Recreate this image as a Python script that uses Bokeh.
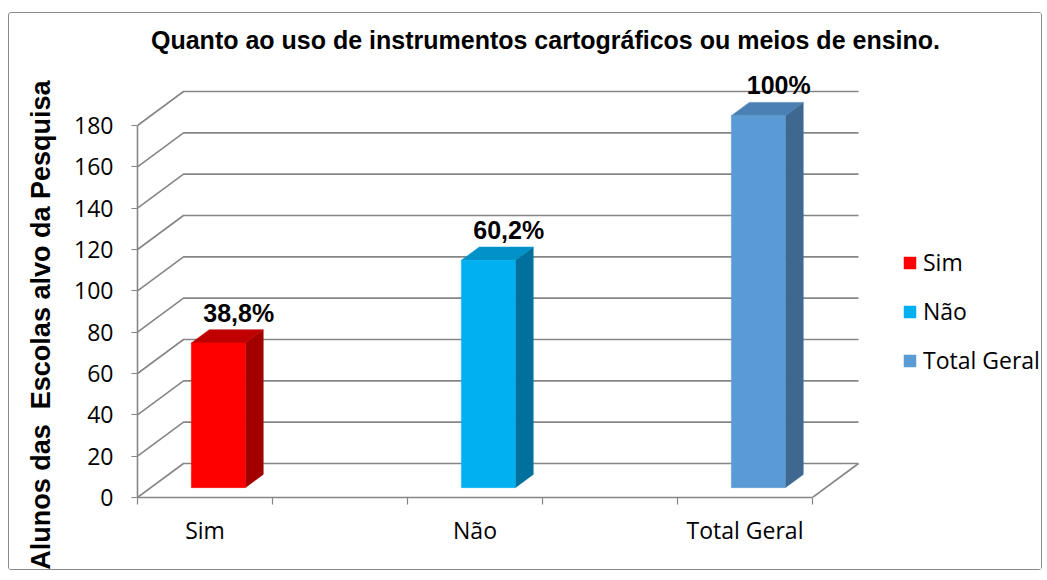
import math
from bokeh.plotting import figure
from bokeh.models import FixedTicker, Legend, LegendItem, ColumnDataSource, Title
from bokeh.core.properties import value
from bokeh.embed import file_html
from bokeh.resources import INLINE

# ---- data ----
categories = ["Sim", "Não", "Total Geral"]
counts = [70, 110, 180]
pct_labels = ["38,8%", "60,2%", "100%"]
slots = [0.5, 2.5, 4.5]          # category slot centres (5 slots, 1st/3rd/5th used)
slot_edges = [0, 1, 2, 3, 4, 5]
y_ticks = [0, 20, 40, 60, 80, 100, 120, 140, 160, 180]
title_text = "Quanto ao uso de instrumentos cartográficos ou meios de ensino."
y_label = "Alunos das\u00a0 Escolas alvo da Pesquisa"

front_colors = ["#FF0000", "#00B0F0", "#5B9BD5"]
top_colors = ["#C00000", "#0092C8", "#4A80B4"]
side_colors = ["#A20000", "#00709C", "#3E6890"]

GRID = "#868686"
BODY_FONT = "Open Sans"
BOLD_FONT = "Liberation Sans"
PX_X = 135.0     # px per x unit
PX_Y = 372 / 180.0  # px per y unit
DX, DY = 46 / PX_X, 34 / PX_Y   # full depth of the 3D box
F1, F2 = 0.29, 0.68             # bar depth span (fraction of box depth)
BW = 0.4
CANVAS_W = 1034

p = figure(width=CANVAS_W, height=558, x_range=(0, (CANVAS_W - 128) / PX_X), y_range=(0, 484 / PX_Y),
           output_backend="svg", toolbar_location=None, title=None,
           min_border_left=128, min_border_bottom=74, min_border_top=0, min_border_right=0)
p.styles = {"margin": "12px 0px 0px 8px", "border": "1px solid #8a8a8a", "border-radius": "3px"}
p.grid.visible = False
p.outline_line_color = None
p.background_fill_color = "white"

# ---- walls / gridlines ----
xs, ys = [], []
for v in y_ticks:
    xs.append([0, DX, 5 + DX])
    ys.append([v, v + DY, v + DY])
xs.append([5, 5 + DX])
ys.append([0, DY])
p.multi_line(xs, ys, line_color=GRID, line_width=1.6)

# ---- bars ----
ddx, ddy = (F2 - F1) * DX, (F2 - F1) * DY
fx, fy, tx, ty, sx, sy = [], [], [], [], [], []
for s, v in zip(slots, counts):
    x0 = s - BW / 2 + F1 * DX
    x1 = s + BW / 2 + F1 * DX
    y0 = F1 * DY
    y1 = v + F1 * DY
    fx.append([x0, x1, x1, x0]); fy.append([y0, y0, y1, y1])
    tx.append([x0, x1, x1 + ddx, x0 + ddx]); ty.append([y1, y1, y1 + ddy, y1 + ddy])
    sx.append([x1, x1 + ddx, x1 + ddx, x1]); sy.append([y0, y0 + ddy, y1 + ddy, y1])

p.patches(sx, sy, fill_color=side_colors, line_color=side_colors, line_width=0.5)
p.patches(tx, ty, fill_color=top_colors, line_color=top_colors, line_width=0.5)
src = ColumnDataSource(dict(xs=fx, ys=fy, color=front_colors, name=categories))
front = p.patches("xs", "ys", source=src, fill_color="color", line_color="color", line_width=0.5)

# ---- data labels ----
p.text(x=[s + 0.25 for s in slots], y=[v + 19.5 for v in counts], text=pct_labels,
       text_align="center", text_baseline="middle",
       text_font=value(BOLD_FONT), text_font_style="bold",
       text_font_size="25px", text_color="#000000")

# ---- title ----
p.text(x=[(545 - 137) / PX_X], y=[(497 - 39) / PX_Y], text=[title_text],
       text_align="center", text_baseline="middle",
       text_font=value(BOLD_FONT), text_font_style="bold",
       text_font_size="25px", text_color="#000000")

# ---- axes ----
ya = p.yaxis[0]
ya.ticker = FixedTicker(ticks=y_ticks)
ya.bounds = (0, 180)
ya.axis_line_color = GRID
ya.axis_line_width = 1.6
ya.major_tick_line_color = GRID
ya.major_tick_line_width = 1.2
ya.major_tick_out = 6
ya.major_tick_in = 0
ya.minor_tick_line_color = None
ya.major_label_text_font = BODY_FONT
ya.major_label_text_font_size = "23px"
ya.major_label_text_color = "#000000"
ya.major_label_standoff = 18

# y axis title as a side title (lets it sit lower than the frame centre)
yt = Title(text=y_label, align="right", offset=67, vertical_align="top",
           text_font=BOLD_FONT, text_font_style="bold", text_font_size="27px",
           text_color="#000000")
if "standoff" in Title.properties():
    yt.standoff = 28
p.add_layout(yt, "left")

xa = p.xaxis[0]
xa.ticker = FixedTicker(ticks=slots, minor_ticks=slot_edges)
xa.major_label_overrides = dict(zip(slots, categories))
xa.bounds = (0, 5)
xa.axis_line_color = GRID
xa.axis_line_width = 1.6
xa.major_tick_line_color = None
xa.major_tick_out = 0
xa.major_tick_in = 0
xa.minor_tick_line_color = GRID
xa.minor_tick_line_width = 1.2
xa.minor_tick_out = 7
xa.minor_tick_in = 0
xa.major_label_text_font = BODY_FONT
xa.major_label_text_font_size = "23px"
xa.major_label_text_color = "#000000"
xa.major_label_standoff = 9

# ---- legend ----
items = [LegendItem(label=c, renderers=[front], index=i) for i, c in enumerate(categories)]
legend = Legend(items=items, location=(765, 121), orientation="vertical",
                border_line_color=None, background_fill_alpha=0, padding=0, margin=0,
                spacing=17, glyph_width=15, glyph_height=15, label_standoff=6,
                label_text_font=BODY_FONT, label_text_font_size="23px",
                label_text_color="#000000", label_height=24)
p.add_layout(legend)

open("out.html", "w").write(file_html(p, INLINE))
